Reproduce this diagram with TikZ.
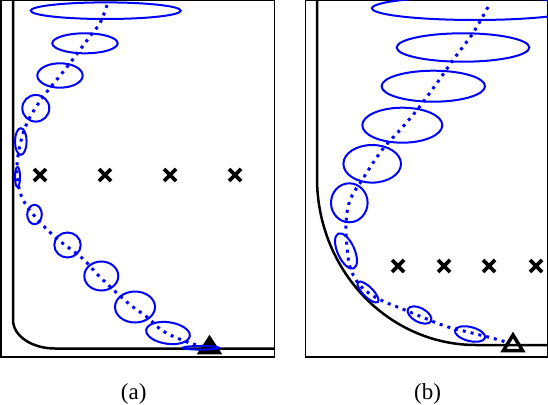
\documentclass[tikz,border=0pt]{standalone}
\usepackage{fontspec}
\setmainfont{Liberation Serif}
\begin{document}
\begin{tikzpicture}[x=1pt,y=-1pt,
  frame/.style={line width=1.2pt,black},
  wall/.style={line width=2.5pt,black},
  cov/.style={line width=2pt,blue},
  traj/.style={line width=3pt,blue,dash pattern=on 3pt off 5pt},
  xmark/.style={line width=3.6pt,black},
  target/.style={line width=3.5pt,black,line join=miter},
  lab/.style={font=\fontsize{23}{26}\selectfont,anchor=base}]
\useasboundingbox (0,0) rectangle (548,404);
% ---------------- panel (a) ----------------
\draw[frame] (1,0.6) rectangle (274.5,357);
\draw[wall] (13,0) -- (13,320) .. controls (13,336) and (32,348.5) .. (55,348.5) -- (274.5,348.5);
\foreach \x in {40,105,170,235}
  \draw[xmark] (\x-6,175-6) -- (\x+6,175+6) (\x-6,175+6) -- (\x+6,175-6);
\draw[traj] plot[smooth,tension=0.6] coordinates {(107,5) (100,23) (88,39) (67,67) (43,97) (27,123) (19,150) (17,173) (21,195) (32,213) (55,237) (82,258) (100,277) (128,303) (147,317) (163,331) (187,342) (205,347)};
\draw[cov] (105.7,10.7) ellipse [x radius=75,y radius=8.3];
\draw[cov] (85,43.3) ellipse [x radius=32.7,y radius=10];
\draw[cov] (60,75.5) ellipse [x radius=22.7,y radius=12.2];
\draw[cov] (35.8,108.3) ellipse [x radius=13.5,y radius=13.3];
\draw[cov] (20.8,141.5) ellipse [x radius=5.8,y radius=13.3];
\draw[cov] (17.5,177) ellipse [x radius=2.5,y radius=10];
\draw[cov] (34.5,214.5) ellipse [x radius=7.3,y radius=9.7];
\draw[cov] (67.5,245) ellipse [x radius=13.2,y radius=12.5];
\draw[cov] (101.3,276) ellipse [x radius=17,y radius=14.5];
\draw[cov] (135,307) ellipse [x radius=20,y radius=15.5];
\draw[cov,rotate around={-8:(168,333)}] (168,333) ellipse [x radius=22,y radius=10.8];
\draw[target,fill=black] (209.5,338) -- (219,352.5) -- (200,352.5) -- cycle;
\draw[cov] (201,347.8) ellipse [x radius=18,y radius=1.8];
\node[lab] (la) at (133.7,399) {(a)};
% ---------------- panel (b) ----------------
\draw[frame] (305.5,0.6) rectangle (547.4,357);
\draw[wall] (317,0) -- (317,178) .. controls (317,270) and (388,345) .. (476,345) -- (547.4,345);
\foreach \x in {398,444,489,536}
  \draw[xmark] (\x-6,266-6) -- (\x+6,266+6) (\x-6,266+6) -- (\x+6,266-6);
\draw[traj] plot[smooth,tension=0.6] coordinates {(488,7) (473,33) (453,60) (437,83) (417,110) (400,130) (382,150) (362,180) (350,200) (346,223) (347,247) (350,267) (358,283) (370,294) (385,302) (400,308) (422,317) (445,326) (472,333) (492,338) (506,342)};
\begin{scope}
\clip (305.5,0.6) rectangle (547.4,357);
\draw[cov] (475,8.3) ellipse [x radius=103,y radius=11.7];
\end{scope}
\draw[cov] (463,47.5) ellipse [x radius=66.3,y radius=14.2];
\draw[cov] (433.3,86.2) ellipse [x radius=51.7,y radius=15.5];
\draw[cov] (402.3,125.2) ellipse [x radius=40,y radius=17.5];
\draw[cov] (372.2,163.8) ellipse [x radius=28.8,y radius=18.8];
\draw[cov] (349.3,202.8) ellipse [x radius=18.3,y radius=19.5];
\draw[cov,rotate around={-66:(346,251)}] (346,251) ellipse [x radius=19,y radius=8.5];
\draw[cov,rotate around={-45:(368,292)}] (368,292) ellipse [x radius=14,y radius=5];
\draw[cov,rotate around={-28:(419.5,315)}] (419.5,315) ellipse [x radius=13,y radius=7];
\draw[cov,rotate around={-14:(470,334)}] (470,334) ellipse [x radius=15.5,y radius=7];
\draw[target] (513,335) -- (522.5,350.5) -- (503.5,350.5) -- cycle;
\node[lab] (lb) at (427.5,399) {(b)};
\end{tikzpicture}
\end{document}
